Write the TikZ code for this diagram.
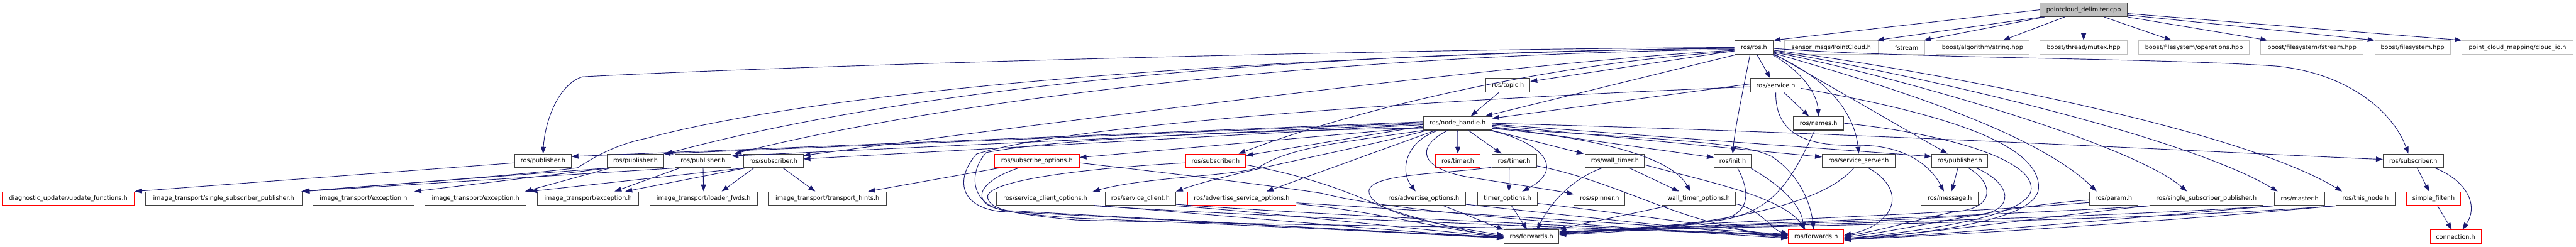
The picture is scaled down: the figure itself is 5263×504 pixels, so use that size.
\documentclass[tikz,border=0pt]{standalone}
\usepackage{fontspec}
\newfontfamily\dvs{DejaVu Sans}
\usetikzlibrary{arrows.meta}
\definecolor{edgec}{HTML}{191970}
\definecolor{gbord}{HTML}{BFBFBF}
\definecolor{nbord}{HTML}{404040}
\begin{document}
\begin{tikzpicture}[x=1pt,y=1pt,
  box/.style={draw=nbord, line width=1.4pt, minimum height=28pt, inner sep=0pt, font=\dvs\fontsize{12.4}{14}\selectfont, text=black},
  rbox/.style={box, draw=red},
  gbox/.style={box, draw=gbord},
  lnk/.style={draw=edgec, line width=1.2pt, -{Triangle[length=14pt,width=10pt]}},
]
\useasboundingbox (0,0) rectangle (5263,-504);
% row 0
\node[box, fill=gbord, minimum width=178] (src0) at (4257,-20) {pointcloud\_delimiter.cpp};
% row 1
\node[box, minimum width=79] (ros) at (3583.5,-97) {ros/ros.h};
\node[gbox, minimum width=191] (pc) at (3741.5,-97) {sensor\_msgs/PointCloud.h};
\node[gbox, minimum width=73] (fs) at (3895.5,-97) {fstream};
\node[gbox, minimum width=191] (bas) at (4050.5,-97) {boost/algorithm/string.hpp};
\node[gbox, minimum width=178] (btm) at (4257,-97) {boost/thread/mutex.hpp};
\node[gbox, minimum width=227] (bfo) at (4482.5,-97) {boost/filesystem/operations.hpp};
\node[gbox, minimum width=209] (bff) at (4723.5,-97) {boost/filesystem/fstream.hpp};
\node[gbox, minimum width=154] (bf) at (4929,-97) {boost/filesystem.hpp};
\node[gbox, minimum width=227] (pcm) at (5143.5,-97) {point\_cloud\_mapping/cloud\_io.h};
% row 2
\node[box, minimum width=90] (topic) at (3081,-174.5) {ros/topic.h};
\node[box, minimum width=102] (srv) at (3628,-174.5) {ros/service.h};
% row 3
\node[box, minimum width=140] (nh) at (2978,-252) {ros/node\_handle.h};
\node[box, minimum width=103] (names) at (3715.5,-252) {ros/names.h};
% row 4
\node[box, minimum width=115] (pubA) at (1109.5,-329) {ros/publisher.h};
\node[box, minimum width=115] (pubB) at (1298.5,-329) {ros/publisher.h};
\node[box, minimum width=115] (pubC) at (1436.5,-329) {ros/publisher.h};
\node[box, minimum width=122] (subA) at (1580,-329) {ros/subscriber.h};
\node[rbox, minimum width=173] (subopt) at (2118.5,-329) {ros/subscribe\_options.h};
\node[rbox, minimum width=123] (subB) at (2483.5,-329) {ros/subscriber.h};
\node[rbox, minimum width=91] (timerA) at (2978.5,-329) {ros/timer.h};
\node[box, minimum width=91] (timerB) at (3093.5,-329) {ros/timer.h};
\node[box, minimum width=121] (wtimer) at (3299.5,-329) {ros/wall\_timer.h};
\node[box, minimum width=76] (init) at (3540,-329) {ros/init.h};
\node[box, minimum width=149] (ssrv) at (3797.5,-329) {ros/service\_server.h};
\node[box, minimum width=114] (pubD) at (4004,-329) {ros/publisher.h};
\node[box, minimum width=123] (subC) at (4930.5,-329) {ros/subscriber.h};
% row 5
\node[rbox, minimum width=271] (diag) at (139.5,-406) {diagnostic\_updater/update\_functions.h};
\node[box, minimum width=320] (itssp) at (457,-406) {image\_transport/single\_subscriber\_publisher.h};
\node[box, minimum width=207] (exA) at (742.5,-406) {image\_transport/exception.h};
\node[box, minimum width=207] (exB) at (971.5,-406) {image\_transport/exception.h};
\node[box, minimum width=207] (exC) at (1201.5,-406) {image\_transport/exception.h};
\node[box, minimum width=219] (ldr) at (1437.5,-406) {image\_transport/loader\_fwds.h};
\node[box, minimum width=241] (hints) at (1690.5,-406) {image\_transport/transport\_hints.h};
\node[box, minimum width=199] (sco) at (2135.5,-406) {ros/service\_client\_options.h};
\node[box, minimum width=144] (sc) at (2330,-406) {ros/service\_client.h};
\node[rbox, minimum width=222] (aso) at (2537,-406) {ros/advertise\_service\_options.h};
\node[box, minimum width=170] (ao) at (2909,-406) {ros/advertise\_options.h};
\node[box, minimum width=122] (tmo) at (3080,-406) {timer\_options.h};
\node[box, minimum width=104] (spin) at (3268,-406) {ros/spinner.h};
\node[box, minimum width=151] (wto) at (3470.5,-406) {wall\_timer\_options.h};
\node[box, minimum width=117] (msg) at (3983.5,-406) {ros/message.h};
\node[box, minimum width=99] (param) at (4318.5,-406) {ros/param.h};
\node[box, minimum width=232] (rssp) at (4508,-406) {ros/single\_subscriber\_publisher.h};
\node[box, minimum width=103] (master) at (4698.5,-406) {ros/master.h};
\node[box, minimum width=120] (thisn) at (4833,-406) {ros/this\_node.h};
\node[rbox, minimum width=110] (sf) at (4972,-406) {simple\_filter.h};
% row 6
\node[box, minimum width=112] (fwdA) at (3129,-484) {ros/forwards.h};
\node[rbox, minimum width=113] (fwdB) at (3710.5,-484) {ros/forwards.h};
\node[rbox, minimum width=104] (conn) at (5017,-484) {connection.h};

% ---- edges from the source file
\draw[lnk] (src0.west) -- (ros.north east);
\draw[lnk] ([xshift=5pt]src0.south west) -- ([xshift=-3pt]pc.north east);
\draw[lnk] ([xshift=10pt]src0.south west) -- ([xshift=-2pt]fs.north east);
\draw[lnk] ([xshift=51pt]src0.south west) -- ([xshift=-54pt]bas.north east);
\draw[lnk] (src0.south) -- (btm.north);
\draw[lnk] ([xshift=-48pt]src0.south east) -- ([xshift=68pt]bfo.north west);
\draw[lnk] (src0.south east) -- ([xshift=14pt]bff.north west);
\draw[lnk] ([yshift=4pt]src0.south east) -- (bf.north west);
\draw[lnk] ([yshift=7pt]src0.south east) -- (pcm.north west);

% ---- edges from ros/ros.h
\draw[lnk] ([xshift=4pt]ros.south west) -- ([xshift=-14pt]nh.north east);
\draw[lnk] ([yshift=-7pt]ros.west) -- ([yshift=8pt]topic.east);
\draw[lnk] ([xshift=6pt]ros.south) -- ([xshift=-11pt]srv.north);
\draw[lnk] ([xshift=-3pt]ros.south east) .. controls (3680,-145) and (3712,-190) .. (names.north);
\draw[lnk] ([xshift=-8pt]ros.south) .. controls (3560,-190) and (3545,-260) .. (init.north);
\draw[lnk] (ros.south east) .. controls (3745,-165) and (3790,-240) .. (ssrv.north);
\draw[lnk] ([yshift=2pt]ros.south east) -- ([xshift=-25pt]pubD.north);
\draw[lnk] ([yshift=3pt]ros.south east) .. controls (3800,-160) and (4150,-260) .. ([xshift=-35pt]param.north);
\draw[lnk] ([yshift=5pt]ros.south east) .. controls (3850,-150) and (4350,-290) .. ([xshift=-40pt]rssp.north);
\draw[lnk] ([yshift=7pt]ros.south east) .. controls (3850,-140) and (4450,-270) .. ([xshift=-45pt]master.north);
\draw[lnk] ([yshift=9pt]ros.south east) .. controls (3850,-130) and (4550,-250) .. ([xshift=-48pt]thisn.north);
\draw[lnk] ([yshift=-2pt]ros.east) .. controls (3900,-120) and (4400,-118) .. (4650,-135) .. controls (4800,-150) and (4890,-230) .. ([xshift=-10pt]subC.north);
\draw[lnk] (ros.west) .. controls (2800,-100) and (1600,-135) .. (1190,-157) .. controls (1140,-172) and (1113,-250) .. (pubA.north);
\draw[lnk] ([yshift=-2pt]ros.west) .. controls (2700,-105) and (1900,-170) .. ([xshift=4pt]pubB.north east);
\draw[lnk] ([yshift=-4pt]ros.west) .. controls (2800,-110) and (2000,-190) .. ([xshift=6pt]pubC.north east);
\draw[lnk] ([yshift=-6pt]ros.west) .. controls (3100,-125) and (2000,-270) .. ([yshift=11pt]subA.east);
\draw[lnk] ([yshift=-8pt]ros.west) .. controls (3150,-130) and (2750,-230) .. ([xshift=-15pt]subB.north east);
\draw[lnk] ([yshift=-1pt]ros.west) .. controls (2600,-112) and (1700,-180) .. (1320,-283) .. controls (1260,-295) and (1215,-320) .. (1180,-343) .. controls (1050,-360) and (750,-380) .. ([xshift=-1pt]itssp.north east);

% ---- topic / service
\draw[lnk] ([xshift=-19pt]topic.south) -- ([xshift=27pt]nh.north);
\draw[lnk] ([yshift=3pt]srv.west) -- ([yshift=10pt]nh.east);
\draw[lnk] ([xshift=17pt]srv.south) -- ([xshift=-20pt]names.north);
\draw[lnk] (srv.south) .. controls (3627,-280) and (3700,-300) .. (3800,-297) .. controls (3880,-297) and (3940,-330) .. ([xshift=-12pt]msg.north);
\draw[lnk] ([yshift=-6pt]srv.east) .. controls (3900,-220) and (4170,-280) .. (4165,-385) .. controls (4160,-450) and (3950,-475) .. ([yshift=-7pt]fwdB.east);
\draw[lnk] ([yshift=-3pt]srv.west) .. controls (3000,-200) and (2200,-250) .. (1995,-315) .. controls (1955,-360) and (1955,-420) .. (2040,-432) .. controls (2500,-455) and (2900,-478) .. ([yshift=-2pt]fwdA.west);

% ---- node_handle
\draw[lnk] (nh.south) -- (timerA.north);
\draw[lnk] ([xshift=22pt]nh.south) -- ([xshift=-26pt]timerB.north);
\draw[lnk] ([xshift=-40pt]nh.south) .. controls (2870,-290) and (2860,-350) .. ([xshift=-17pt]ao.north);
\draw[lnk] ([xshift=-20pt]nh.south) .. controls (2890,-300) and (2900,-345) .. (3000,-362) .. controls (3100,-378) and (3170,-388) .. ([yshift=9pt]spin.west);
\draw[lnk] ([xshift=-5pt]nh.south east) .. controls (3150,-290) and (3200,-345) .. ([xshift=30pt]tmo.north);
\draw[lnk] (nh.south east) -- ([xshift=-3pt]wtimer.north west);
\draw[lnk] ([yshift=4pt]nh.south east) .. controls (3300,-285) and (3420,-330) .. ([xshift=-17pt]wto.north);
\draw[lnk] ([yshift=-7pt]nh.east) -- ([yshift=7pt]init.west);
\draw[lnk] ([yshift=-4pt]nh.east) -- ([yshift=8pt]ssrv.west);
\draw[lnk] ([yshift=-2pt]nh.east) -- ([yshift=9pt]pubD.west);
\draw[lnk] (nh.east) .. controls (3800,-272) and (4500,-310) .. ([yshift=3pt]subC.west);
\draw[lnk] ([yshift=-10pt]nh.east) .. controls (3400,-285) and (3560,-290) .. (3620,-320) .. controls (3680,-360) and (3700,-420) .. ([xshift=-5pt]fwdB.north);
\draw[lnk] ([yshift=3pt]nh.west) -- ([yshift=9pt]pubA.east);
\draw[lnk] ([yshift=1pt]nh.west) -- ([xshift=-1pt]pubB.north east);
\draw[lnk] ([yshift=-1pt]nh.west) -- ([yshift=10pt]pubC.east);
\draw[lnk] ([yshift=-3pt]nh.west) -- ([yshift=4pt]subA.east);
\draw[lnk] ([yshift=-6pt]nh.west) -- ([yshift=11pt]subB.east);
\draw[lnk] ([yshift=-8pt]nh.west) -- ([yshift=7pt]subopt.east);
\draw[lnk] (nh.south west) .. controls (2750,-290) and (2640,-300) .. (2575,-340) .. controls (2540,-360) and (2350,-360) .. ([xshift=-3pt]sco.north east);
\draw[lnk] ([xshift=8pt]nh.south west) .. controls (2750,-310) and (2520,-350) .. (sc.north east);
\draw[lnk] ([xshift=25pt]nh.south west) -- ([xshift=-61pt]aso.north east);
\draw[lnk] ([yshift=-10pt]nh.west) .. controls (2500,-268) and (2150,-285) .. (2015,-312) .. controls (1980,-350) and (1980,-415) .. (2050,-430) .. controls (2500,-455) and (2900,-478) .. ([yshift=-1pt]fwdA.west);

% ---- left image_transport part
\draw[lnk] ([yshift=-4pt]pubA.west) -- (diag.north east);
\draw[lnk] (pubB.south west) -- ([xshift=-2pt]itssp.north east);
\draw[lnk] ([xshift=3pt]pubB.south west) -- (exA.north east);
\draw[lnk] ([xshift=6pt]pubB.south west) -- ([xshift=-3pt]exB.north east);
\draw[lnk] (pubC.south west) -- ([xshift=1pt]itssp.north east);
\draw[lnk] ([xshift=10pt]pubC.south west) -- ([xshift=-50pt]exC.north east);
\draw[lnk] (pubC.south) -- (ldr.north);
\draw[lnk] (subA.south west) -- ([xshift=8pt]exB.north east);
\draw[lnk] ([xshift=4pt]subA.south west) -- ([xshift=-28pt]exC.north east);
\draw[lnk] ([xshift=-40pt]subA.south) -- ([xshift=37pt]ldr.north);
\draw[lnk] ([xshift=20pt]subA.south) -- ([xshift=-25pt]hints.north);
\draw[lnk] ([xshift=-78pt]subopt.south) -- ([xshift=-38pt]hints.north east);

% ---- subscribe options / subscriber (red)
\draw[lnk] ([xshift=-38pt]subopt.south) .. controls (2030,-360) and (2000,-385) .. (2007,-405) .. controls (2012,-428) and (2060,-436) .. (2200,-446) .. controls (2600,-462) and (2900,-478) .. ([yshift=-3pt]fwdA.west);
\draw[lnk] ([yshift=-4pt]subopt.east) .. controls (2400,-355) and (2600,-380) .. (2700,-395) .. controls (2850,-435) and (3300,-465) .. ([yshift=-3pt]fwdB.west);
\draw[lnk] ([yshift=-4pt]subB.west) .. controls (2200,-345) and (2025,-370) .. (2018,-400) .. controls (2015,-428) and (2070,-438) .. (2200,-450) .. controls (2700,-462) and (3300,-466) .. ([yshift=4pt]fwdB.west);
\draw[lnk] ([yshift=-8pt]subB.east) .. controls (2700,-365) and (2780,-405) .. (2830,-425) .. controls (2900,-450) and (3000,-472) .. ([yshift=-5pt]fwdA.west);

% ---- row 5 left group to forwards
\draw[lnk] ([yshift=1pt]sco.south east) .. controls (2500,-440) and (2900,-478) .. ([yshift=-1pt]fwdA.west);
\draw[lnk] (sco.south east) .. controls (2600,-445) and (3300,-468) .. ([yshift=2pt]fwdB.west);
\draw[lnk] (sc.south east) .. controls (2600,-435) and (2950,-475) .. (fwdA.west);
\draw[lnk] ([yshift=3pt]sc.south east) .. controls (2700,-440) and (3300,-466) .. ([yshift=3pt]fwdB.west);
\draw[lnk] ([yshift=4pt]aso.south east) .. controls (2800,-430) and (2950,-470) .. ([yshift=1pt]fwdA.west);
\draw[lnk] ([yshift=6pt]aso.south east) .. controls (2900,-430) and (3350,-460) .. ([yshift=5pt]fwdB.west);
\draw[lnk] ([xshift=40pt]ao.south) .. controls (3000,-440) and (3050,-462) .. (fwdA.north west);
\draw[lnk] ([yshift=3pt]ao.south east) .. controls (3200,-440) and (3500,-472) .. ([yshift=-2pt]fwdB.west);

% ---- timers
\draw[lnk] ([xshift=-10pt]timerB.south) -- ([xshift=3pt]tmo.north);
\draw[lnk] ([yshift=-13pt]timerB.west) .. controls (2950,-356) and (2800,-355) .. (2797,-390) .. controls (2795,-435) and (2950,-462) .. ([yshift=3pt]fwdA.west);
\draw[lnk] ([yshift=-10pt]timerB.east) .. controls (3320,-375) and (3420,-455) .. ([yshift=-1pt]fwdB.west);
\draw[lnk] ([xshift=8pt]tmo.south) -- ([xshift=-9pt]fwdA.north);
\draw[lnk] ([yshift=5pt]tmo.south east) .. controls (3350,-440) and (3550,-470) .. ([yshift=1pt]fwdB.west);
\draw[lnk] ([xshift=30pt]wtimer.south) -- ([xshift=-40pt]wto.north);
\draw[lnk] ([xshift=-27pt]wtimer.south) .. controls (3200,-370) and (3160,-430) .. ([xshift=11pt]fwdA.north);
\draw[lnk] ([yshift=-8pt]wtimer.east) .. controls (3480,-370) and (3640,-400) .. ([xshift=-22pt]fwdB.north);
\draw[lnk] ([xshift=-63pt]wto.south) .. controls (3320,-440) and (3220,-460) .. (fwdA.north east);
\draw[lnk] ([yshift=4pt]wto.south east) .. controls (3600,-430) and (3620,-470) .. ([yshift=6pt]fwdB.west);

% ---- init / names / service_server
\draw[lnk] ([xshift=10pt]init.south) .. controls (3575,-390) and (3575,-430) .. (3530,-445) .. controls (3450,-465) and (3300,-475) .. ([yshift=4pt]fwdA.east);
\draw[lnk] ([xshift=-2pt]init.south east) .. controls (3640,-380) and (3680,-420) .. ([xshift=-25pt]fwdB.north);
\draw[lnk] ([xshift=-8pt]names.south) .. controls (3660,-370) and (3620,-440) .. (3500,-452) .. controls (3400,-462) and (3250,-475) .. ([yshift=5pt]fwdA.east);
\draw[lnk] (names.east) .. controls (3950,-270) and (4150,-320) .. (4150,-385) .. controls (4150,-440) and (3950,-470) .. ([yshift=-4pt]fwdB.east);
\draw[lnk] ([xshift=-10pt]ssrv.south) .. controls (3720,-420) and (3520,-462) .. ([yshift=6pt]fwdA.east);
\draw[lnk] ([xshift=20pt]ssrv.south) .. controls (3900,-390) and (3870,-460) .. ([yshift=3pt]fwdB.east);

% ---- publisher (right)
\draw[lnk] ([xshift=-4pt]pubD.south) -- ([xshift=4pt]msg.north);
\draw[lnk] ([xshift=18pt]pubD.south) .. controls (4075,-375) and (4075,-425) .. (4000,-432) .. controls (3950,-440) and (3850,-470) .. ([yshift=1pt]fwdB.east);
\draw[lnk] ([xshift=34pt]pubD.south) .. controls (4110,-375) and (4120,-430) .. (4040,-440) .. controls (3850,-455) and (3400,-462) .. ([yshift=7pt]fwdA.east);

% ---- right row 5 to forwards
\draw[lnk] ([yshift=-3pt]param.west) .. controls (4100,-420) and (3900,-470) .. ([yshift=-1pt]fwdB.east);
\draw[lnk] ([yshift=-8pt]param.west) .. controls (3950,-440) and (3500,-452) .. ([yshift=8pt]fwdA.east);
\draw[lnk] (rssp.south west) .. controls (4100,-440) and (3600,-455) .. ([yshift=9pt]fwdA.east);
\draw[lnk] (rssp.south west) .. controls (4200,-440) and (3950,-478) .. ([yshift=-3pt]fwdB.east);
\draw[lnk] (master.south west) .. controls (4300,-445) and (3700,-458) .. ([yshift=10pt]fwdA.east);
\draw[lnk] (master.south west) .. controls (4300,-450) and (4000,-478) .. ([yshift=-5pt]fwdB.east);
\draw[lnk] (thisn.south west) .. controls (4400,-450) and (3750,-460) .. ([yshift=11pt]fwdA.east);
\draw[lnk] (thisn.south west) .. controls (4400,-455) and (4000,-480) .. ([yshift=-6pt]fwdB.east);

% ---- subscriber (right)
\draw[lnk] ([xshift=8pt]subC.south) -- ([xshift=-9pt]sf.north);
\draw[lnk] ([xshift=45pt]subC.south) .. controls (5040,-370) and (5065,-420) .. ([xshift=14pt]conn.north);
\draw[lnk] ([xshift=8pt]sf.south) -- ([xshift=-8pt]conn.north);
\end{tikzpicture}
\end{document}
